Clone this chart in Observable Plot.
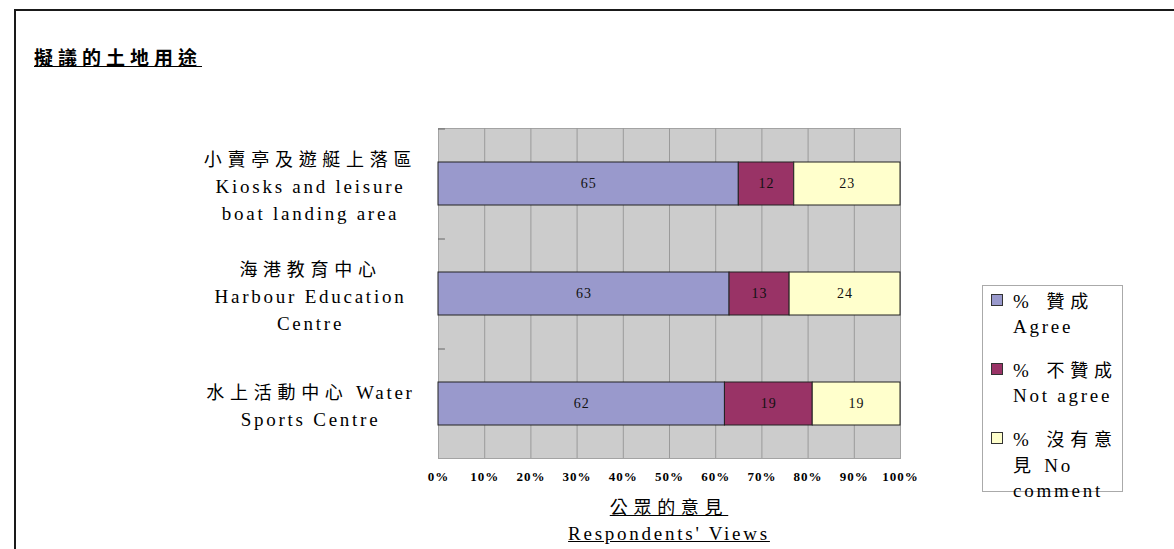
<!DOCTYPE html>
<html><head><meta charset="utf-8">
<script src="https://cdn.jsdelivr.net/npm/d3@7"></script>
<script src="https://cdn.jsdelivr.net/npm/@observablehq/plot@0.6"></script>
<style>
body{margin:0;width:1174px;height:549px;overflow:hidden;background:#fff;position:relative;font-family:"Liberation Serif","Noto Sans CJK TC",serif;color:#000;letter-spacing:2.75px}
#frame{position:absolute;left:14px;top:9px;width:2000px;height:2000px;border-top:2px solid #1a1a1a;border-left:2px solid #1a1a1a}
#chart{position:absolute;left:0;top:0}
.cjk{font-family:"Noto Sans CJK TC";font-size:18px;letter-spacing:5.7px}
#title{position:absolute;left:34px;top:44px;font-size:19px;line-height:26px;font-weight:bold;text-decoration:underline;white-space:nowrap}
#title .cjk{font-size:19px;letter-spacing:5px}
#xtitle{position:absolute;left:438px;width:462px;top:493px;text-align:center;font-size:19px;line-height:26px;text-decoration:underline}
#legend{position:absolute;left:982px;top:285px;width:141px;height:207px;border:1px solid #aaa;box-sizing:border-box;padding-top:2px}
.item{position:relative;padding-left:30px;font-size:19px;line-height:25px;margin-bottom:18px;white-space:pre}
.sw{position:absolute;left:8px;top:6px;width:10px;height:10px;border:1px solid #333}
g[aria-label="y-axis tick label"] text{letter-spacing:2.75px}
g[aria-label="x-axis tick label"] text{letter-spacing:1px}
g[aria-label="text"] text{letter-spacing:1px}
</style></head>
<body>
<div id="frame"></div>
<div id="chart"></div>
<div id="title"></div>
<div id="xtitle"></div>
<div id="legend"></div>
<script>
// ---- data ----
const titleText = "擬議的土地用途";
const categories = [
  "小賣亭及遊艇上落區\nKiosks and leisure\nboat landing area",
  "海港教育中心\nHarbour Education\nCentre",
  "水上活動中心 Water\nSports Centre"
];
const series = ["Agree", "Not agree", "No comment"];
const legendLabels = ["%  贊成\nAgree", "%  不贊成\nNot agree", "%  沒有意\n見 No\ncomment"];
const agree = [65, 63, 62];
const notAgree = [12, 13, 19];
const noComment = [23, 24, 19];
const seriesColors = ["#9999cc", "#993366", "#ffffcc"];
const xTicks = [0, 10, 20, 30, 40, 50, 60, 70, 80, 90, 100];
const xTitle = ["公眾的意見", "Respondents' Views"];

const values = [agree, notAgree, noComment];
const data = categories.flatMap((c, i) => series.map((s, j) => ({cat: c, s, v: values[j][i]})));

// ---- helpers ----
const cjkRe = /[\u3000-\u9fff\uff00-\uffef]+/g;
function runs(s) {
  const out = []; let last = 0;
  s.replace(cjkRe, (m, i) => { if (i > last) out.push({t: s.slice(last, i), cjk: false}); out.push({t: m, cjk: true}); last = i + m.length; return m; });
  if (last < s.length) out.push({t: s.slice(last), cjk: false});
  return out;
}
function html(s) {
  return s.split("\n").map(line => runs(line).map(r => r.cjk ? `<span class="cjk">${r.t}</span>` : r.t.replace(/&/g,"&amp;").replace(/</g,"&lt;")).join("")).join("<br>");
}

// ---- chart ----
const chart = Plot.plot({
  width: 1174, height: 549,
  marginLeft: 438, marginRight: 274, marginTop: 128, marginBottom: 91,
  style: {fontFamily: "Liberation Serif", background: "transparent", color: "#000"},
  x: {domain: [0, 100], axis: null},
  y: {domain: categories, paddingInner: 0.61, paddingOuter: 0.305, axis: null},
  color: {domain: series, range: seriesColors},
  marks: [
    Plot.frame({fill: "#cccccc", stroke: "#a3a3a3"}),
    Plot.ruleX(xTicks.slice(1, -1), {stroke: "#9a9a9a", strokeWidth: 1}),
    Plot.ruleY(categories, {x1: 0, x2: 1.5, dy: -55, stroke: "#666"}),
    Plot.barX(data, {x: "v", y: "cat", fill: "s", stroke: "#222", strokeWidth: 1}),
    Plot.text(data, Plot.stackX({x: "v", y: "cat", text: "v", fontSize: 14, fill: "#111"})),
    Plot.axisX({ticks: xTicks, tickSize: 0, tickPadding: 13, fontSize: 13, fontWeight: "bold", label: null, tickFormat: d => d + "%"}),
    Plot.axisY({tickSize: 0, textAnchor: "middle", dx: -119, fontSize: 19, lineHeight: 1.42, label: null, fill: "#000"})
  ]
});
document.getElementById("chart").appendChild(chart);

// CJK runs in SVG text: CJK font with letter spacing
chart.querySelectorAll("tspan, text").forEach(el => {
  if (el.tagName === "text" && el.querySelector("tspan")) return;
  const s = el.textContent;
  if (!/[\u3000-\u9fff]/.test(s)) return;
  el.textContent = "";
  for (const r of runs(s)) {
    const t = document.createElementNS("http://www.w3.org/2000/svg", "tspan");
    t.textContent = r.t;
    if (r.cjk) { t.setAttribute("font-family", "Noto Sans CJK TC"); t.setAttribute("font-size", "18"); t.setAttribute("letter-spacing", "5.7"); }
    el.appendChild(t);
  }
});

document.getElementById("title").innerHTML = html(titleText);
document.getElementById("xtitle").innerHTML = xTitle.map(html).join("<br>");
document.getElementById("legend").innerHTML = legendLabels.map((l, i) =>
  `<div class="item"><div class="sw" style="background:${seriesColors[i]}"></div>${html(l)}</div>`).join("");
</script>
</body></html>
